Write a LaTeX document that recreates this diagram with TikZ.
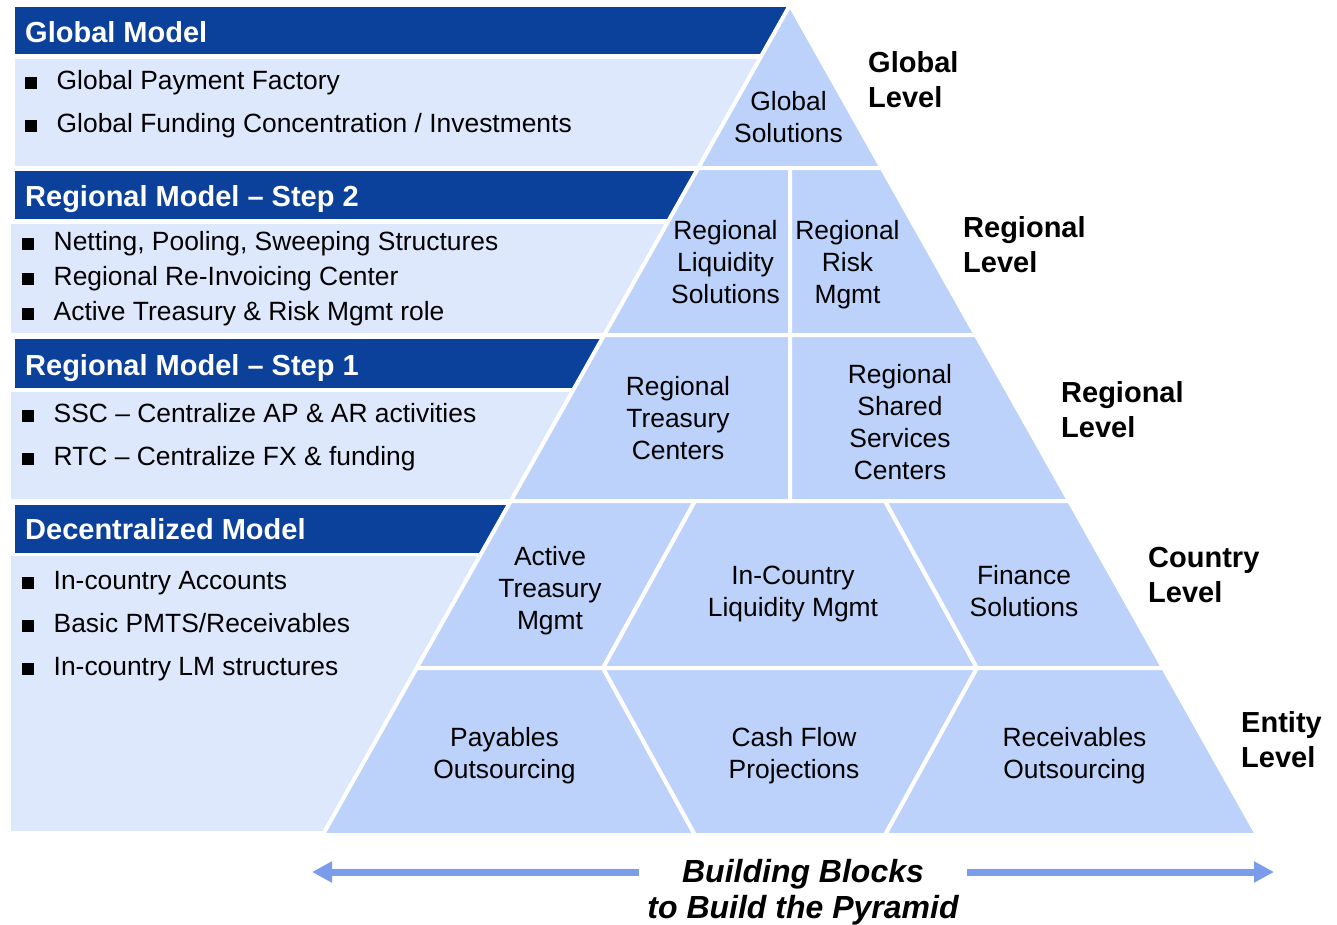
\documentclass[tikz,border=0pt]{standalone}
\usepackage{fontspec}
\setmainfont{Liberation Sans}
\usetikzlibrary{arrows.meta}

\definecolor{hdrblue}{HTML}{0B419B}
\definecolor{panelblue}{HTML}{DEE8FD}
\definecolor{pyrblue}{HTML}{BCD2FB}
\definecolor{arrowblue}{HTML}{7A9CEA}

% line spacing is held by \baselineskip alone, even where struts touch
\setlength{\lineskiplimit}{-100pt}

% struts that put a node's centre on the middle of its text lines
\newcommand{\bodystrut}{\rule[-6pt]{0pt}{31pt}}
\newcommand{\boldstrut}{\rule[-6pt]{0pt}{32.8pt}}
\newcommand{\capstrut}{\rule[-6.1pt]{0pt}{35pt}}
\newcommand{\bsq}{\rule[1pt]{11.5pt}{11.5pt}\hspace{20pt}}

\tikzset{
  bodytxt/.style={inner sep=0pt, font=\fontsize{26.4pt}{32pt}\selectfont},
  blocktxt/.style={bodytxt, align=center},
  bullet/.style={bodytxt, anchor=west},
  hdrtxt/.style={inner sep=0pt, anchor=west, text=white,
    font=\fontsize{29pt}{35pt}\selectfont\bfseries},
  leveltxt/.style={inner sep=0pt, anchor=west, align=left,
    font=\fontsize{29pt}{35pt}\selectfont\bfseries},
  capttxt/.style={inner sep=0pt, align=center,
    font=\fontsize{32pt}{36pt}\selectfont\bfseries\itshape},
  piece/.style={fill=pyrblue, draw=white, line width=4pt, line join=round},
  panel/.style={fill=panelblue},
  hdrbar/.style={fill=hdrblue},
  spread/.style={draw=arrowblue, line width=7pt,
    -{Triangle[length=20pt,width=20pt]}}
}

\begin{document}
\begin{tikzpicture}[x=1pt,y=-1pt]
\useasboundingbox (0,0) rectangle (1337,924);

% ---------- left-hand model panels, trimmed along the pyramid flank ----------
\begin{scope}
  \clip (0,-5) -- (793.6,-5) -- (267.2,930) -- (0,930) -- cycle;
  \path[hdrbar] (15,7)   rectangle (900,54);
  \path[panel]  (15,59)  rectangle (900,166);
  \path[hdrbar] (15,171) rectangle (900,219);
  \path[panel]  (11,224) rectangle (900,333);
  \path[hdrbar] (15,339) rectangle (900,388);
  \path[panel]  (11,392) rectangle (900,499);
  \path[hdrbar] (15,505) rectangle (900,553);
  \path[panel]  (11,556) rectangle (900,831);
\end{scope}

% ---------- pyramid corner points ----------
\coordinate (apex) at (790,5);
\coordinate (gl) at (698.2,168);  \coordinate (gm) at (790,168);  \coordinate (gr) at (881.8,168);
\coordinate (sl) at (604.2,335);  \coordinate (sm) at (790,335);  \coordinate (sr) at (975.8,335);
\coordinate (rl) at (510.8,501);  \coordinate (rm) at (790,501);  \coordinate (rr) at (1069.2,501);
\coordinate (ra) at (695,501);    \coordinate (rb) at (885,501);
\coordinate (cl) at (416.7,668);  \coordinate (cr) at (1163.3,668);
\coordinate (ca) at (603,668);    \coordinate (cb) at (977,668);
\coordinate (el) at (322.7,835);  \coordinate (er) at (1257.3,835);
\coordinate (ea) at (695,835);    \coordinate (eb) at (885,835);

% ---------- pyramid blocks ----------
\path[piece] (apex) -- (gr) -- (gl) -- cycle;
\path[piece] (gl) -- (gm) -- (sm) -- (sl) -- cycle;
\path[piece] (gm) -- (gr) -- (sr) -- (sm) -- cycle;
\path[piece] (sl) -- (sm) -- (rm) -- (rl) -- cycle;
\path[piece] (sm) -- (sr) -- (rr) -- (rm) -- cycle;
\path[piece] (rl) -- (ra) -- (ca) -- (cl) -- cycle;
\path[piece] (ra) -- (rb) -- (cb) -- (ca) -- cycle;
\path[piece] (rb) -- (rr) -- (cr) -- (cb) -- cycle;
\path[piece] (cl) -- (ca) -- (ea) -- (el) -- cycle;
\path[piece] (ca) -- (cb) -- (eb) -- (ea) -- cycle;
\path[piece] (cb) -- (cr) -- (er) -- (eb) -- cycle;

% ---------- block labels ----------
\node[blocktxt] (bglobal) at (788.5,117) {Global\bodystrut\\Solutions\bodystrut};
\node[blocktxt] (bregliq) at (725.5,262) {Regional\bodystrut\\Liquidity\bodystrut\\Solutions\bodystrut};
\node[blocktxt] (bregrisk) at (847.5,262) {Regional\bodystrut\\Risk\bodystrut\\Mgmt\bodystrut};
\node[blocktxt] (brtc) at (678,418) {Regional\bodystrut\\Treasury\bodystrut\\Centers\bodystrut};
\node[blocktxt] (bssc) at (900,422) {Regional\bodystrut\\Shared\bodystrut\\Services\bodystrut\\Centers\bodystrut};
\node[blocktxt] (batm) at (550,588) {Active\bodystrut\\Treasury\bodystrut\\Mgmt\bodystrut};
\node[blocktxt] (bilm) at (793,591) {In-Country\bodystrut\\Liquidity Mgmt\bodystrut};
\node[blocktxt] (bfin) at (1024,591) {Finance\bodystrut\\Solutions\bodystrut};
\node[blocktxt] (bpay) at (504.5,753) {Payables\bodystrut\\Outsourcing\bodystrut};
\node[blocktxt] (bcfp) at (794,753) {Cash Flow\bodystrut\\Projections\bodystrut};
\node[blocktxt] (brec) at (1074.5,753) {Receivables\bodystrut\\Outsourcing\bodystrut};

% ---------- level labels ----------
\node[leveltxt] (lglobal) at (868,79.5)  {Global\boldstrut\\Level\boldstrut};
\node[leveltxt] (lreg2)   at (963,244.5) {Regional\boldstrut\\Level\boldstrut};
\node[leveltxt] (lreg1)   at (1061,409.5) {Regional\boldstrut\\Level\boldstrut};
\node[leveltxt] (lcountry) at (1148,574.5) {Country\boldstrut\\Level\boldstrut};
\node[leveltxt] (lentity) at (1241,739.5) {Entity\boldstrut\\Level\boldstrut};

% ---------- panel headings ----------
\node[hdrtxt] (hglobal) at (25,32)  {Global Model\boldstrut};
\node[hdrtxt] (hstep2)  at (25,196) {Regional Model -- Step 2\boldstrut};
\node[hdrtxt] (hstep1)  at (25,365) {Regional Model -- Step 1\boldstrut};
\node[hdrtxt] (hdec)    at (25,529) {Decentralized Model\boldstrut};

% ---------- bullet items ----------
\node[bullet] (g1) at (25,80)  {\bsq Global Payment Factory\bodystrut};
\node[bullet] (g2) at (25,123) {\bsq Global Funding Concentration / Investments\bodystrut};
\node[bullet] (s21) at (22,241) {\bsq Netting, Pooling, Sweeping Structures\bodystrut};
\node[bullet] (s22) at (22,276) {\bsq Regional Re-Invoicing Center\bodystrut};
\node[bullet] (s23) at (22,311) {\bsq Active Treasury \& Risk Mgmt role\bodystrut};
\node[bullet] (s11) at (22,413) {\bsq SSC -- Centralize AP \& AR activities\bodystrut};
\node[bullet] (s12) at (22,456) {\bsq RTC -- Centralize FX \& funding\bodystrut};
\node[bullet] (d1) at (22,580) {\bsq In-country Accounts\bodystrut};
\node[bullet] (d2) at (22,623) {\bsq Basic PMTS/Receivables\bodystrut};
\node[bullet] (d3) at (22,666) {\bsq In-country LM structures\bodystrut};

% ---------- caption with spreading arrows ----------
\node[capttxt] (caption) at (803,889) {Building Blocks\capstrut\\to Build the Pyramid\capstrut};
\coordinate (lstart) at (639,872);
\coordinate (ltip) at (312,872);
\coordinate (rstart) at (967,872);
\coordinate (rtip) at (1274,872);
\draw[spread] (lstart) -- (ltip);
\draw[spread] (rstart) -- (rtip);
\end{tikzpicture}
\end{document}
